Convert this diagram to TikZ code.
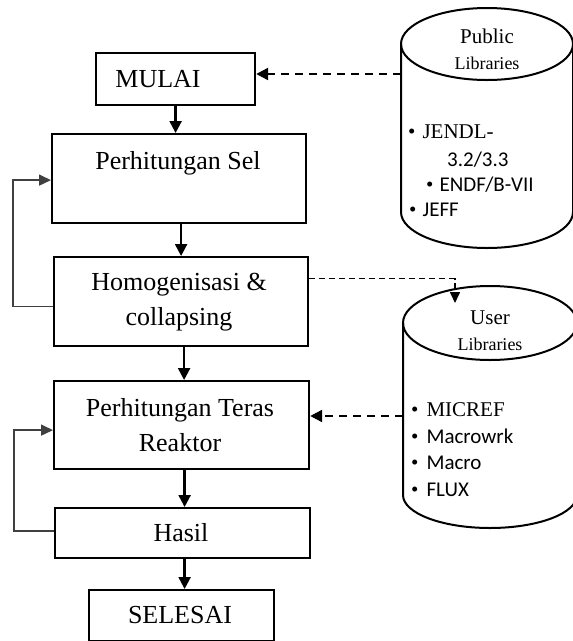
\documentclass[tikz,border=0pt]{standalone}
\usepackage{fontspec}
\setmainfont{Liberation Serif}
\newfontfamily\calib{Carlito}
\usetikzlibrary{arrows.meta,calc}
\begin{document}
\begin{tikzpicture}[x=1pt,y=-1pt,
  box/.style={draw, line width=2.2pt, inner sep=0pt, anchor=north west},
  lbl/.style={font=\fontsize{26}{35}\selectfont, align=center, inner sep=0pt},
  flow/.style={-{Triangle[length=12pt,width=12pt]}, line width=2.3pt},
  loopline/.style={-{Triangle[length=12pt,width=11pt]}, line width=1.6pt, draw=black!75},
  dsh/.style={flow, dash pattern=on 8pt off 6pt},
  thindsh/.style={-{Triangle[length=11pt,width=10pt]}, line width=1.6pt, dash pattern=on 6pt off 4pt},
  cyl/.style={line width=2pt},
  ctext/.style={font=\fontsize{21}{25}\selectfont, inner sep=0pt, anchor=west},
  ttext/.style={font=\fontsize{21}{25}\selectfont, inner sep=0pt},
]
\useasboundingbox (0,0) rectangle (573,641);
\fill[white] (0,0) rectangle (573,641);

% boxes
\node[box, minimum width=159pt, minimum height=52pt] (mulai) at (95,52) {};
\node[box, minimum width=254pt, minimum height=89pt] (sel) at (51,133) {};
\node[box, minimum width=254pt, minimum height=89pt] (homog) at (53,256) {};
\node[box, minimum width=255pt, minimum height=88pt] (teras) at (53,380) {};
\node[box, minimum width=255pt, minimum height=50pt] (hasil) at (54,507) {};
\node[box, minimum width=185pt, minimum height=51pt] (selesai) at (88,589) {};

% labels
\node[lbl] (tmulai) at (158,79) {MULAI};
\node[lbl] (tsel) at (178,163) {Perhitungan Sel};
\node[lbl] (thomog) at (179,302) {Homogenisasi \&\\collapsing};
\node[lbl] (tteras) at (180,425) {Perhitungan Teras\\Reaktor};
\node[lbl] (thasil) at (181,533) {Hasil};
\node[lbl] (tselesai) at (180,615) {SELESAI};

% main flow
\draw[flow] (mulai.south) -- (mulai.south |- sel.north);
\draw[flow] (sel.south -| homog.north) -- (homog.north);
\draw[flow] ($(homog.south)+(3,0)$) -- ($(homog.south |- teras.north)+(3,0)$);
\draw[flow] ($(teras.south)+(3,0)$) -- ($(teras.south |- hasil.north)+(3,0)$);
\draw[flow] ($(hasil.south)+(2,0)$) -- ($(hasil.south |- selesai.north)+(2,0)$);

% feedback loops
\draw[loopline] ($(homog.west)+(0,5)$) -| ($(sel.west)+(-38,1.5)$) -- ($(sel.west)+(0,1.5)$);
\draw[loopline] ($(hasil.west)+(0,-2)$) -| ($(teras.west)+(-39,5)$) -- ($(teras.west)+(0,5)$);

% cylinders
\draw[cyl, fill=white] (401,44) -- (401,212) arc[start angle=180, end angle=360, x radius=86pt, y radius=36pt] -- (573,44);
\draw[cyl] (487,44) ellipse [x radius=86pt, y radius=36pt];
\draw[cyl, fill=white] (403,323) -- (403,495) arc[start angle=180, end angle=360, x radius=87pt, y radius=33pt] -- (577,323);
\draw[cyl] (490,323) ellipse [x radius=87pt, y radius=37pt];

\coordinate (pubL) at (401,74);
\coordinate (usrL) at (403,416);
\coordinate (usrtop) at (455,303);

% cylinder texts
\node[ttext] (pub1) at (487,36) {Public};
\node[ttext, font=\fontsize{18}{20}\selectfont] (pub2) at (487,63) {Libraries};
\node[ttext] (usr1) at (490,318) {User};
\node[ttext, font=\fontsize{18}{20}\selectfont] (usr2) at (490,344) {Libraries};

\node[ctext] (p1) at (408,132) {•\hspace{7pt}JENDL-};
\node[ctext] (p2) at (447,160) {\calib 3.2/3.3};
\node[ctext] (p3) at (426,185) {•\hspace{6pt}\calib ENDF/B-VII};
\node[ctext] (p4) at (409,210) {•\hspace{6pt}\calib JEFF};

\node[ctext] (u1) at (411,410) {•\hspace{8pt}MICREF};
\node[ctext] (u2) at (411,436) {•\hspace{8pt}\calib Macrowrk};
\node[ctext] (u3) at (411,463) {•\hspace{8pt}\calib Macro};
\node[ctext] (u4) at (411,490) {•\hspace{8pt}\calib FLUX};

% dashed links
\draw[dsh] (pubL) -- (mulai.east |- pubL);
\draw[dsh] (usrL) -- (teras.east |- usrL);
\draw[thindsh] ($(homog.east)+(0,-23)$) -| (usrtop);
\end{tikzpicture}
\end{document}
